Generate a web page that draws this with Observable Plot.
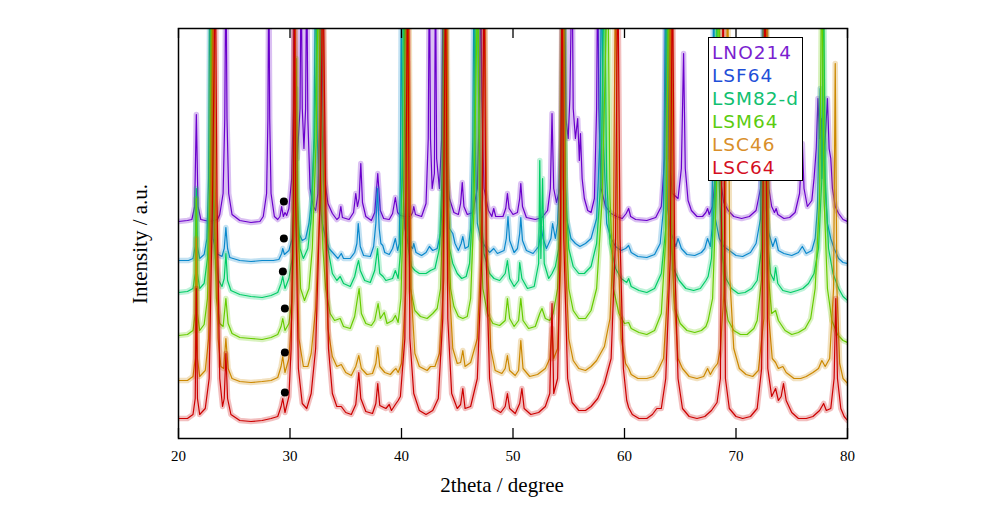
<!DOCTYPE html>
<html><head><meta charset="utf-8">
<script src="https://cdn.jsdelivr.net/npm/d3@7"></script>
<script src="https://cdn.jsdelivr.net/npm/@observablehq/plot@0.6"></script>
<style>
body{margin:0;background:#fff;}
#wrap{position:relative;width:986px;height:508px;overflow:hidden;}
.xt{position:absolute;left:0;width:986px;top:473px;text-align:center;font-family:"Liberation Serif",serif;font-size:21px;color:#000;padding-left:18px;box-sizing:border-box;}
.yt{position:absolute;left:140px;top:244px;transform:translate(-50%,-50%) rotate(-90deg);font-family:"Liberation Serif",serif;font-size:21px;white-space:nowrap;color:#000;}
.leg{position:absolute;left:708px;top:37px;width:95px;height:144px;background:#fff;border:1.5px solid #000;font-family:"DejaVu Sans",sans-serif;font-size:18.5px;letter-spacing:1px;line-height:23px;padding-top:3px;padding-left:3px;box-sizing:border-box;}
</style></head><body><div id="wrap"></div>
<script>
// ---- data (2theta in degree, intensity in a.u. incl. stacking offset) ----
const seriesNames = ["LNO214","LSF64","LSM82-d","LSM64","LSC46","LSC64"];
const lineColors = ["#6a00cc","#0a88cc","#00cc66","#66cc00","#cc8800","#cc0000"];
const legendColors = ["#7b1fd0","#1f4fd8","#10c070","#5ccc10","#d98f2a","#d40f1f"];
const xTicks = [20,30,40,50,60,70,80];

const LNO214 = [[20.0,217],[20.8,218],[21.2,219],[21.45,232],[21.6,324],[21.75,232],[22.0,219],[22.8,217],[23.5,219],
[23.7,224],[24.0,245],[24.15,320],[24.25,480],[24.35,320],[24.5,245],[24.8,224],[25.5,218],[26.5,216],[27.3,217],
[27.6,222],[27.9,245],[28.02,320],[28.1,480],[28.18,320],[28.3,245],[28.6,222],[28.9,219],[29.1,222],[29.25,232],[29.4,222],[29.55,226],[29.7,223],
[29.9,230],[30.15,260],[30.3,330],[30.38,480],[30.48,330],[30.65,280],[30.9,330],[31.0,480],[31.1,330],[31.25,290],[31.4,330],[31.5,480],[31.6,320],[31.8,250],[32.1,232],[32.3,228],
[32.5,245],[32.7,330],[32.82,480],[32.95,330],[33.1,260],[33.4,235],[33.8,225],[34.2,219],[34.4,221],[34.56,232],[34.7,221],
[35.3,219],[35.7,226],[35.9,245],[36.05,232],[36.2,240],[36.35,275],[36.5,236],[36.8,222],[37.3,218],[37.6,226],[37.87,265],[38.1,228],[38.4,220],
[38.9,219],[39.2,225],[39.45,241],[39.65,226],[39.9,223],[40.3,222],[40.8,222],[41.0,226],[41.1,232],[41.25,224],
[41.8,222],[42.2,235],[42.4,300],[42.5,480],[42.6,300],[42.75,250],[42.95,265],[43.05,480],[43.15,280],[43.4,250],[43.6,300],[43.75,480],[43.9,300],[44.1,260],[44.3,240],[44.7,226],[45.1,224],[45.3,235],[45.45,256],[45.6,232],[45.9,224],
[46.4,226],[46.8,250],[47.0,340],[47.1,480],[47.2,340],[47.4,250],[47.8,228],[48.1,222],[48.27,230],[48.45,222],
[49.1,222],[49.35,230],[49.5,245],[49.65,230],[50.0,224],[50.4,226],[50.6,240],[50.7,255],[50.85,232],[51.2,221],
[52.0,219],[52.6,221],[53.1,228],[53.35,250],[53.5,325],[53.65,250],[53.9,236],[54.2,250],[54.45,320],[54.6,480],[54.75,320],[54.95,300],[55.1,340],[55.3,480],[55.4,330],[55.6,300],[55.8,320],[55.95,278],[56.05,305],[56.2,260],[56.4,240],[56.7,228],
[57.0,226],[57.3,240],[57.5,330],[57.6,480],[57.7,330],[57.9,250],[58.3,232],[58.8,225],[59.3,222],[59.8,220],[60.15,225],[60.37,230],[60.55,222],
[61.0,219],[62.0,218],[62.8,221],[63.3,232],[63.6,280],[63.8,480],[64.0,280],[64.3,245],[64.8,240],[65.1,270],[65.3,385],[65.45,270],[65.7,238],[66.0,228],[66.5,222],[67.0,222],[67.3,226],[67.45,230],[67.6,224],
[67.9,232],[68.2,270],[68.4,360],[68.6,260],[68.9,236],[69.3,228],[69.8,222],[70.5,220],[71.2,222],[71.8,228],[72.2,250],[72.45,330],[72.6,480],[72.75,330],[72.95,250],[73.2,232],[73.45,226],[73.6,230],[73.75,224],
[74.3,220],[74.8,221],[75.3,226],[75.7,245],[75.95,295],[76.1,250],[76.4,232],[76.8,238],[77.0,260],[77.2,290],[77.35,340],[77.5,300],[77.65,320],[77.8,280],[78.0,300],[78.2,340],[78.35,290],[78.5,280],[78.65,250],[78.9,232],[79.2,225],[79.6,219],[80.0,217]];

const LSF64 = [[20.0,178],[20.9,178],[21.3,180],[21.5,192],[21.6,240],[21.7,192],[21.9,180],
[22.3,184],[22.55,200],[22.7,260],[22.82,480],[22.95,260],[23.1,200],[23.4,185],[23.9,182],[24.1,190],[24.25,211],[24.4,190],[24.6,181],
[25.5,178],[26.5,177],[27.5,178],[28.5,178],[29.0,179],[29.25,185],[29.35,190],[29.5,184],
[29.9,188],[30.2,200],[30.4,240],[30.5,300],[30.6,240],[30.8,205],[31.1,198],[31.4,200],[31.7,215],[31.95,240],[32.15,300],[32.3,480],[32.45,300],[32.65,240],[32.9,215],[33.2,200],[33.5,190],[33.9,185],[34.3,180],[34.6,185],[34.8,180],
[35.4,180],[35.8,186],[36.0,195],[36.12,215],[36.3,192],[36.6,183],[37.2,182],[37.5,192],[37.7,215],[37.85,250],[38.0,210],[38.15,195],[38.32,193],[38.5,186],
[38.9,184],[39.2,190],[39.45,200],[39.65,188],[39.8,195],[39.9,260],[40.0,480],[40.1,260],[40.3,210],[40.6,195],[41.0,190],[41.1,195],[41.3,186],
[41.8,183],[42.2,186],[42.5,192],[42.8,188],[43.2,190],[43.5,205],[43.75,260],[43.9,480],[44.05,260],[44.3,210],[44.6,205],[44.8,195],[45.1,188],[45.35,195],[45.5,202],[45.7,190],
[46.0,192],[46.2,210],[46.4,300],[46.5,480],[46.6,300],[46.8,215],[47.1,200],[47.5,192],[47.9,186],[48.27,190],[48.6,185],[49.2,188],[49.4,200],[49.55,222],[49.7,198],
[50.1,186],[50.4,190],[50.6,205],[50.7,221],[50.85,198],[51.2,188],[51.8,185],[52.3,192],[52.55,210],[52.7,200],[53.0,190],[53.4,200],[53.55,215],[53.8,200],
[54.0,215],[54.3,300],[54.45,480],[54.6,300],[54.8,220],[55.2,200],[55.6,195],[56.0,192],[56.5,195],[57.0,200],[57.5,220],[57.8,300],[57.95,480],[58.1,300],[58.4,215],[58.8,200],[59.2,192],[59.7,188],[60.1,190],[60.37,193],[60.6,186],
[61.2,182],[62.0,181],[62.7,184],[63.2,195],[63.5,230],[63.7,480],[63.85,230],[64.2,205],[64.6,192],[64.8,200],[65.1,190],[65.6,184],[66.3,183],[66.9,186],[67.2,190],[67.45,200],[67.7,192],
[67.85,210],[68.0,480],[68.15,220],[68.5,200],[68.9,192],[69.4,188],[70.0,183],[70.6,182],[71.3,186],[71.8,195],[72.2,220],[72.5,480],[72.7,230],[72.95,205],[73.3,192],[73.55,200],[73.8,188],
[74.3,185],[75.0,183],[75.6,186],[75.95,192],[76.3,185],[76.8,188],[77.1,200],[77.3,230],[77.55,350],[77.7,260],[77.85,300],[78.0,250],[78.2,215],[78.5,200],[78.8,190],[79.2,180],[79.6,176],[80.0,175]];

const LSM82d = [[20.0,146],[20.8,147],[21.3,150],[21.5,165],[21.6,250],[21.7,165],[21.9,150],[22.3,155],[22.6,180],[22.8,250],[22.95,480],[23.1,250],[23.3,180],[23.6,158],[23.9,152],[24.1,160],[24.25,185],[24.4,158],[24.7,148],
[25.5,144],[26.5,142],[27.5,141],[28.3,143],[28.9,146],[29.2,155],[29.35,162],[29.55,150],[29.9,160],[30.2,180],[30.4,240],[30.52,350],[30.65,240],[30.9,190],[31.2,180],[31.6,190],[31.9,220],[32.2,300],[32.4,400],[32.55,480],[32.7,400],[32.9,300],[33.1,230],[33.4,190],[33.8,165],
[34.2,158],[34.5,162],[34.8,155],[35.4,152],[35.8,162],[36.0,172],[36.15,178],[36.3,168],[36.7,158],[37.2,156],[37.6,168],[37.85,190],[38.05,165],[38.35,162],[38.6,158],[39.2,160],[39.45,168],[39.7,160],
[39.9,185],[40.1,300],[40.22,480],[40.35,300],[40.6,190],[40.9,172],[41.2,168],[41.6,165],[42.2,165],[42.6,168],[43.0,170],[43.4,190],[43.7,280],[43.85,480],[44.0,280],[44.3,190],[44.6,175],[45.0,165],[45.4,160],[45.8,162],
[46.1,175],[46.4,230],[46.6,350],[46.75,480],[46.9,350],[47.1,230],[47.4,185],[47.9,165],[48.3,160],[48.8,158],[49.3,165],[49.5,178],[49.7,160],[50.1,152],[50.5,158],[50.6,176],[50.8,160],[51.3,150],
[51.9,152],[52.3,175],[52.4,278],[52.5,180],[52.65,260],[52.8,175],[53.2,160],[53.5,165],[53.8,172],[54.1,190],[54.35,250],[54.55,480],[54.7,250],[55.0,190],[55.4,172],[55.9,165],[56.4,165],
[57.0,172],[57.5,195],[57.9,260],[58.2,480],[58.4,260],[58.7,195],[59.2,170],[59.7,160],[60.2,156],[60.37,160],[60.6,152],[61.3,148],[62.0,146],[62.7,150],[63.3,165],[63.7,210],[63.9,480],[64.1,210],[64.4,170],[64.9,158],
[65.5,150],[66.2,148],[66.8,150],[67.3,158],[67.5,162],[67.8,180],[68.1,250],[68.3,480],[68.5,250],[68.8,180],[69.1,160],[69.6,150],[70.2,145],[70.8,146],[71.4,150],[71.9,158],[72.3,190],[72.6,480],[72.8,200],[73.1,165],[73.4,158],[73.55,171],[73.75,155],
[74.2,148],[74.9,146],[75.5,148],[76.0,150],[76.5,155],[77.0,165],[77.4,190],[77.7,260],[77.85,480],[78.0,260],[78.3,190],[78.7,165],[79.2,150],[79.6,142],[80.0,138]];

const LSM64 = [[20.0,103],[20.8,104],[21.3,108],[21.5,125],[21.6,240],[21.7,125],[21.9,108],[22.3,114],[22.6,140],[22.85,250],[23.0,480],[23.15,250],[23.4,140],[23.7,115],[24.0,112],[24.25,140],[24.45,115],[24.8,105],
[25.5,101],[26.5,100],[27.5,99],[28.3,101],[28.9,104],[29.2,112],[29.35,120],[29.55,108],[29.9,115],[30.2,140],[30.4,220],[30.55,380],[30.7,220],[30.95,150],[31.3,138],[31.7,150],[32.0,190],[32.35,300],[32.55,480],[32.7,300],[32.95,190],[33.2,150],[33.6,125],
[34.0,118],[34.5,120],[34.8,112],[35.4,110],[35.8,122],[36.05,140],[36.2,150],[36.4,125],[36.8,115],[37.3,113],[37.6,118],[37.9,135],[38.1,120],[38.45,126],[38.7,115],[39.2,118],[39.45,123],[39.7,116],
[39.95,140],[40.2,250],[40.4,480],[40.55,250],[40.8,150],[41.2,128],[41.7,122],[42.3,120],[42.8,125],[43.2,130],[43.5,150],[43.75,240],[43.95,480],[44.1,240],[44.4,150],[44.7,132],[45.1,122],[45.5,120],[45.9,122],
[46.2,140],[46.5,230],[46.85,480],[47.0,230],[47.3,150],[47.7,125],[48.2,115],[48.8,113],[49.3,118],[49.5,140],[49.7,120],[50.1,112],[50.5,118],[50.7,140],[50.9,118],[51.4,110],
[52.0,112],[52.4,125],[52.6,130],[52.9,120],[53.3,118],[53.6,125],[54.0,150],[54.3,230],[54.5,480],[54.7,230],[55.0,150],[55.4,128],[55.9,120],[56.5,120],
[57.0,128],[57.5,150],[58.0,240],[58.5,480],[58.7,240],[59.0,150],[59.5,125],[60.0,115],[60.37,116],[60.6,110],[61.3,106],[62.0,104],[62.7,108],[63.3,125],[63.7,200],[64.0,480],[64.2,200],[64.5,130],[65.0,115],
[65.6,108],[66.3,106],[66.9,108],[67.3,112],[67.5,118],[67.9,140],[68.25,250],[68.45,480],[68.65,250],[68.95,140],[69.3,118],[69.8,108],[70.4,104],[71.0,104],[71.6,110],[71.9,118],[72.3,160],[72.65,480],[72.85,170],[73.2,125],[73.55,128],[73.8,118],
[74.4,108],[75.0,104],[75.6,106],[76.2,110],[76.7,120],[77.1,150],[77.5,240],[77.7,480],[77.9,240],[78.2,150],[78.6,118],[79.1,104],[79.6,98],[80.0,96]];

const LSC46 = [[20.0,58],[20.8,58],[21.3,62],[21.5,80],[21.6,200],[21.7,80],[21.9,62],[22.4,68],[22.7,100],[22.95,250],[23.15,480],[23.3,250],[23.55,100],[23.8,72],[24.05,70],[24.25,100],[24.45,70],[24.8,60],
[25.5,57],[26.5,56],[27.5,57],[28.3,58],[28.9,61],[29.2,72],[29.35,82],[29.55,66],[29.9,80],[30.15,120],[30.35,240],[30.45,480],[30.55,240],[30.8,100],[31.2,72],[31.6,72],[31.9,85],[32.3,130],[32.7,240],[32.95,480],[33.1,240],[33.4,110],[33.8,82],
[34.2,72],[34.6,74],[35.0,66],[35.5,63],[35.9,72],[36.17,83],[36.4,70],[36.9,64],[37.4,65],[37.7,75],[37.87,91],[38.05,72],[38.5,66],[39.0,64],[39.3,68],[39.5,70],[39.7,66],
[40.0,75],[40.4,150],[40.65,480],[40.85,150],[41.2,85],[41.6,72],[42.3,68],[42.6,72],[43.0,72],[43.4,85],[43.8,160],[44.05,480],[44.25,160],[44.6,90],[45.0,75],[45.3,76],[45.5,88],[45.7,72],
[46.2,76],[46.8,100],[47.2,200],[47.45,480],[47.65,200],[48.0,90],[48.4,68],[49.0,65],[49.3,70],[49.5,83],[49.7,68],[50.2,63],[50.5,68],[50.7,98],[50.9,70],[51.5,62],
[52.2,64],[52.9,70],[53.3,80],[53.5,110],[53.65,80],[54.0,90],[54.3,180],[54.5,480],[54.7,180],[55.0,100],[55.4,78],[55.9,70],[56.5,68],
[57.0,72],[57.5,78],[58.2,92],[58.7,120],[59.0,200],[59.2,480],[59.4,200],[59.7,100],[60.1,75],[60.37,70],[60.6,64],[61.2,60],[62.0,60],[62.6,62],[63.0,68],[63.5,80],[63.9,150],[64.2,480],[64.4,150],[64.8,80],[65.2,70],
[65.8,62],[66.5,60],[67.1,62],[67.45,70],[67.7,64],[68.0,70],[68.35,75],[68.6,90],[69.0,160],[69.25,480],[69.45,160],[69.8,90],[70.3,70],[70.9,64],[71.5,62],[72.0,68],[72.5,120],[72.75,480],[72.95,120],[73.25,80],[73.55,76],[73.8,70],
[74.2,72],[74.5,66],[75.2,60],[75.8,60],[76.3,62],[76.9,66],[77.4,70],[77.7,78],[78.0,72],[78.4,80],[78.75,150],[78.9,375],[79.05,150],[79.3,75],[79.6,60],[80.0,55]];

const LSC64 = [[20.0,20],[20.8,20],[21.3,24],[21.5,40],[21.6,150],[21.7,40],[21.9,24],[22.4,30],[22.75,60],[23.05,240],[23.3,480],[23.45,240],[23.7,60],[23.95,32],[24.1,40],[24.25,85],[24.4,40],[24.7,24],
[25.5,18],[26.5,17],[27.5,18],[28.3,20],[28.9,22],[29.2,32],[29.35,40],[29.55,26],[29.9,42],[30.1,90],[30.3,240],[30.4,480],[30.5,240],[30.75,70],[31.1,35],[31.5,30],[31.9,45],[32.3,90],[32.7,240],[32.95,480],[33.2,240],[33.45,90],[33.8,45],
[34.2,32],[34.6,32],[35.0,26],[35.5,24],[35.9,34],[36.17,66],[36.35,40],[36.8,27],[37.4,25],[37.7,35],[37.87,55],[38.05,33],[38.6,30],[38.9,34],[39.1,28],[39.45,34],[39.7,38],
[39.9,42],[40.3,100],[40.55,480],[40.75,100],[41.1,45],[41.6,28],[42.2,24],[42.8,28],[43.3,40],[43.7,120],[43.95,480],[44.15,120],[44.5,45],[45.0,30],[45.3,34],[45.5,50],[45.7,30],
[46.2,32],[46.8,60],[47.2,180],[47.4,480],[47.6,180],[47.9,60],[48.3,30],[48.9,26],[49.3,32],[49.5,45],[49.7,30],[50.2,25],[50.6,35],[50.8,50],[51.0,30],[51.6,24],
[52.3,26],[52.9,32],[53.3,45],[53.5,135],[53.65,45],[54.0,60],[54.25,200],[54.4,480],[54.55,200],[54.9,60],[55.3,36],[55.9,28],[56.5,28],
[57.0,32],[57.6,40],[58.2,55],[58.8,80],[59.2,200],[59.4,480],[59.6,200],[59.9,70],[60.2,38],[60.37,31],[60.7,24],[61.3,20],[62.0,20],[62.5,24],[62.9,30],[63.3,30],[63.7,60],[64.1,180],[64.3,480],[64.5,180],[64.8,60],[65.2,30],
[65.8,22],[66.5,20],[67.2,22],[67.8,28],[68.3,36],[68.6,60],[68.85,480],[69.05,60],[69.4,30],[70.0,22],[70.6,20],[71.3,22],[71.9,30],[72.3,70],[72.6,480],[72.85,70],[73.2,42],[73.55,50],[73.8,38],
[74.05,42],[74.26,55],[74.5,38],[75.0,26],[75.6,20],[76.3,20],[76.9,22],[77.5,28],[77.86,35],[78.1,28],[78.5,30],[78.8,60],[78.95,140],[79.1,60],[79.4,30],[79.7,22],[80.0,18]];

// impurity markers (black dots)
const dotX = [29.45,29.45,29.36,29.54,29.54,29.54];
const dotY = [237,200,167,130,86,46];

// ---- build ----
const curves = [LNO214, LSF64, LSM82d, LSM64, LSC46, LSC64];
const dots = dotX.map((x,i)=>({x, y: dotY[i]}));

const marks = [];
curves.forEach((pts,i)=>{
  const rows = pts.map(([x,y])=>({x,y}));
  marks.push(Plot.line(rows,{x:"x",y:"y",stroke:lineColors[i],strokeWidth:5.5,strokeOpacity:0.25,clip:true}));
  marks.push(Plot.line(rows,{x:"x",y:"y",stroke:lineColors[i],strokeWidth:1.2,clip:true}));
});
marks.push(Plot.dot(dots,{x:"x",y:"y",r:4,fill:"black"}));
marks.push(Plot.ruleX(xTicks,{x:d=>d,y1:0,y2:10,stroke:"black",strokeWidth:1.3}));
marks.push(Plot.ruleX(xTicks,{x:d=>d,y1:400,y2:410,stroke:"black",strokeWidth:1.3}));
marks.push(Plot.axisX(xTicks,{anchor:"bottom",tickSize:0,tickPadding:12,label:null,fontSize:15,fontFamily:"Liberation Serif"}));
marks.push(Plot.frame({stroke:"black",strokeWidth:1.5}));

const chart = Plot.plot({
  width:986, height:508,
  marginLeft:178, marginRight:139, marginTop:28, marginBottom:70,
  x:{domain:[20,80]},
  y:{domain:[0,410], axis:null},
  style:{background:"white", fontFamily:"Liberation Serif", fontSize:"15px", color:"black"},
  marks
});
const wrap = document.getElementById("wrap");
wrap.appendChild(chart);

const xt = document.createElement("div"); xt.className="xt"; xt.textContent="2theta / degree"; wrap.appendChild(xt);
const yt = document.createElement("div"); yt.className="yt"; yt.textContent="Intensity / a.u."; wrap.appendChild(yt);
const leg = document.createElement("div"); leg.className="leg";
seriesNames.forEach((n,i)=>{const d=document.createElement("div"); d.textContent=n; d.style.color=legendColors[i]; leg.appendChild(d);});
wrap.appendChild(leg);
</script></body></html>
